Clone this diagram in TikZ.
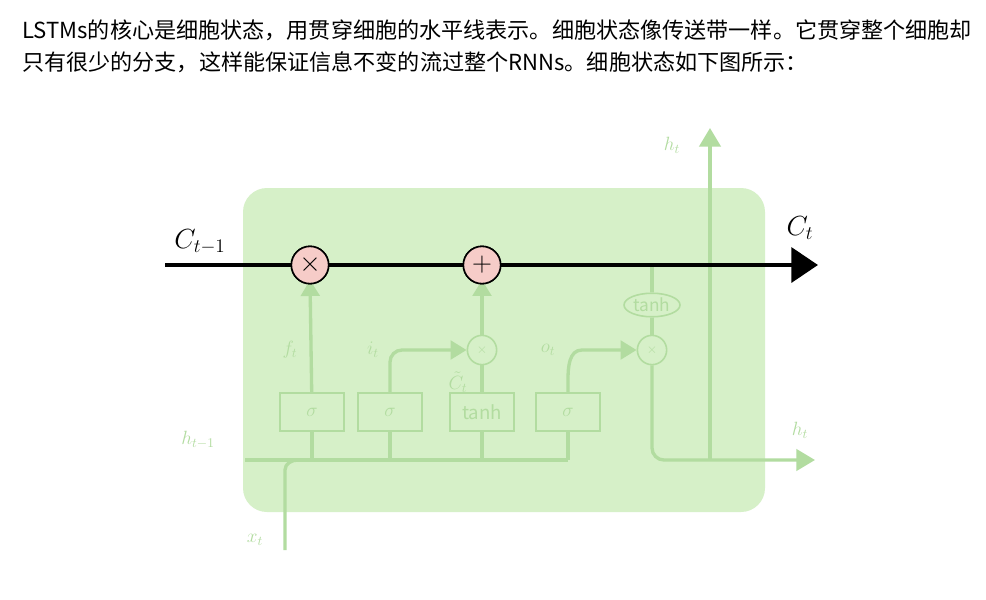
\documentclass[tikz,border=0pt]{standalone}
\usepackage{fontspec}
\setmainfont{Noto Sans CJK SC}
\usetikzlibrary{arrows.meta,shapes.geometric}
\definecolor{cellbg}{RGB}{214,240,200}
\definecolor{faint}{RGB}{178,220,160}
\definecolor{opfill}{RGB}{246,204,200}
\begin{document}
\begin{tikzpicture}[x=0.0264cm,y=-0.0264cm,
    gate/.style={draw=faint,line width=1.5pt,text=faint,minimum width=48,minimum height=28,inner sep=0pt,font=\fontsize{14}{14}\selectfont},
    pw/.style={draw=faint,line width=2.5pt},
    fop/.style={circle,draw=faint,line width=1.2pt,text=faint,minimum size=22,inner sep=0pt},
    op/.style={circle,draw=black,fill=opfill,line width=1.2pt,minimum size=28,inner sep=0pt,font=\fontsize{20}{20}\selectfont},
    flab/.style={text=faint,font=\fontsize{14}{14}\selectfont}]
  \useasboundingbox[fill=white] (0,0) rectangle (986,599);
  % text above the picture
  \node[anchor=west,inner sep=0pt,font=\fontsize{16.6}{18}\selectfont] (line1) at (22,30) {LSTMs的核心是细胞状态，用贯穿细胞的水平线表示。细胞状态像传送带一样。它贯穿整个细胞却};
  \node[anchor=west,inner sep=0pt,font=\fontsize{16.6}{18}\selectfont] (line2) at (22,62) {只有很少的分支，这样能保证信息不变的流过整个RNNs。细胞状态如下图所示：};
  % cell
  \fill[cellbg,rounded corners=18] (243,188) rectangle (765,512);
  % faint gates
  \node[gate] (sf) at (312,412) {$\sigma$};
  \node[gate] (si) at (390,412) {$\sigma$};
  \node[gate] (tc) at (482,412) {tanh};
  \node[gate] (so) at (568,412) {$\sigma$};
  \node[fop] (mi) at (482,350) {$\times$};
  \node[fop] (mo) at (652,350) {$\times$};
  \node[draw=faint,line width=1.2pt,ellipse,text=faint,inner sep=1pt,font=\fontsize{13}{13}\selectfont] (th) at (652,305) {tanh};
  \coordinate (xin) at (285,550);
  \coordinate (hin) at (245,460);
  \coordinate (hout) at (815,460);
  \coordinate (htop) at (710,128);
  \draw[pw] (hin) -- (568,460);
  \draw[pw] (xin) -- (285,470) to[out=90,in=180] (298,460);
  \foreach \g in {sf,si,tc,so} \draw[pw] (\g.south) -- (\g.south |- 0,460);
  \draw[pw,-{Triangle[length=12,width=14]}] (sf) -- (310,280);
  \draw[pw,-{Triangle[length=12,width=14]}] (si) -- (390,362) to[out=90,in=180] (402,350) -- (mi);
  \draw[pw] (tc) -- (mi);
  \draw[pw,-{Triangle[length=12,width=14]}] (mi) -- (482,280);
  \draw[pw,-{Triangle[length=12,width=14]}] (so) -- (568,380) to[out=90,in=180] (582,350) -- (mo);
  \draw[pw] (652,265) -- (th) -- (mo);
  \draw[pw,-{Triangle[length=14,width=16]}] (mo) -- (652,448) to[out=-90,in=180] (664,460) -- (hout);
  \draw[pw,-{Triangle[length=14,width=16]}] (710,460) -- (htop);
  \node[flab] (lf) at (290,350) {$f_t$};
  \node[flab] (li) at (373,350) {$i_t$};
  \node[flab] (lc) at (458,382) {$\tilde C_t$};
  \node[flab] (lo) at (548,350) {$o_t$};
  \node[flab] (lh1) at (198,440) {$h_{t-1}$};
  \node[flab] (lx) at (255,540) {$x_t$};
  \node[flab] (lh2) at (800,430) {$h_t$};
  \node[flab] (lh3) at (672,145) {$h_t$};
  % cell state
  \coordinate (cin) at (165,265);
  \coordinate (cout) at (818,265);
  \node[op] (mf) at (310,265) {$\times$};
  \node[op] (ad) at (482,265) {$+$};
  \draw[line width=3.5pt,-{Triangle[length=20,width=26]}] (cin) -- (mf) -- (ad) -- (cout);
  \node[op] at (310,265) {$\times$};
  \node[op] at (482,265) {$+$};
  \node[font=\fontsize{20}{20}\selectfont] (lcp) at (200,242) {$C_{t-1}$};
  \node[font=\fontsize{20}{20}\selectfont] (lct) at (800,228) {$C_t$};
\end{tikzpicture}
\end{document}
